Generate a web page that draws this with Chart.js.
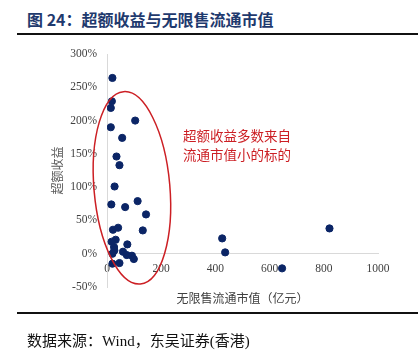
<!DOCTYPE html>
<html>
<head>
<meta charset="utf-8">
<script src="https://cdn.jsdelivr.net/npm/chart.js@4/dist/chart.umd.min.js"></script>
<style>
  html, body { margin: 0; padding: 0; background: #fff; }
  #wrap { position: relative; width: 418px; height: 358px; overflow: hidden; }
  #chartBox { position: absolute; left: 0; top: 0; width: 418px; height: 358px; }
  .title {
    position: absolute; left: 27px; top: 8px;
    font: bold 16px "Noto Sans CJK SC", sans-serif; color: #1f3a6e;
    line-height: 22px; white-space: nowrap;
  }
  .rule { position: absolute; left: 17px; right: 0; height: 2px; background: #111; }
  .source {
    position: absolute; left: 27px; top: 330px;
    font: 15px "Liberation Serif", "Noto Sans CJK SC", serif; color: #111;
    line-height: 22px; white-space: nowrap;
  }
</style>
</head>
<body>
<div id="wrap">
  <div class="title">图 24：超额收益与无限售流通市值</div>
  <div class="rule" style="top:33px"></div>
  <div id="chartBox"><canvas id="myChart"></canvas></div>
  <div class="rule" style="top:312px"></div>
  <div class="source">数据来源：Wind，东吴证券(香港)</div>
</div>
<script>
// 无限售流通市值（亿元）
var floatCap = [20, 18, 14, 104, 14, 56, 35, 46, 28, 16, 67, 113, 144, 132, 22, 41,
                32, 17, 75, 26, 27, 20, 59, 73, 92, 99, 20, 46, 425, 436, 646, 821];
// 超额收益（%）
var excessRet = [264, 229, 219, 200, 190, 174, 146, 133, 101, 74, 70, 79, 59, 35, 36, 39,
                 21, 18, 14, 10, 5, 0, 3, -2, -3, -8, -15, -14, 23, 2, -22, 38];
var xTicks = [0, 200, 400, 600, 800, 1000];
var yTicks = [-50, 0, 50, 100, 150, 200, 250, 300];
var noteLines = ['超额收益多数来自', '流通市值小的标的'];

var points = floatCap.map(function(v, i) { return { x: v, y: excessRet[i] }; });

var serif = "'Liberation Serif', 'Noto Sans CJK SC', serif";

// 椭圆、注释文字和横轴标题
var notePlugin = {
    id: 'notePlugin',
    afterDatasetsDraw: function(chart) {
        var ctx = chart.ctx;
        var xs = chart.scales.x, ys = chart.scales.y;
        var area = chart.chartArea;

        var cx = xs.getPixelForValue(92), cy = ys.getPixelForValue(99);
        var rx = xs.getPixelForValue(140) - xs.getPixelForValue(0);
        var ry = ys.getPixelForValue(0) - ys.getPixelForValue(145);
        ctx.save();
        ctx.strokeStyle = '#cc1f24';
        ctx.lineWidth = 1.5;
        ctx.beginPath();
        ctx.ellipse(cx, cy, rx, ry, -5 * Math.PI / 180, 0, Math.PI * 2);
        ctx.stroke();

        ctx.fillStyle = '#cc1f24';
        ctx.font = "13.5px 'Noto Sans CJK SC', sans-serif";
        ctx.textBaseline = 'middle';
        var tx = xs.getPixelForValue(280), ty = ys.getPixelForValue(177);
        noteLines.forEach(function(line, i) {
            ctx.fillText(line, tx, ty + i * 19);
        });

        ctx.fillStyle = '#404040';
        ctx.font = "12px 'Noto Sans CJK SC', sans-serif";
        ctx.textAlign = 'center';
        ctx.fillText('无限售流通市值（亿元）', (area.left + area.right) / 2, area.bottom + 11);
        ctx.restore();
    }
};

var ctx = document.getElementById('myChart');

var myChart = new Chart(ctx.getContext('2d'), {
    type: 'scatter',
    data: {
        datasets: [{
            label: '超额收益',
            data: points,
            backgroundColor: '#0b2566',
            borderColor: '#0b2566',
            pointRadius: 3.6,
            pointHoverRadius: 3.6
        }]
    },
    options: {
        responsive: true,
        maintainAspectRatio: false,
        animation: false,
        layout: { padding: { left: 50, top: 54, right: 40, bottom: 71 } },
        plugins: {
            legend: { display: false },
            tooltip: { enabled: false }
        },
        scales: {
            x: {
                type: 'linear',
                position: { y: 0 },
                min: 0,
                max: 1000,
                afterBuildTicks: function(scale) {
                    scale.ticks = xTicks.map(function(v) { return { value: v }; });
                },
                grid: { display: false, drawTicks: false },
                border: { display: true, color: '#d9d9d9', width: 1 },
                ticks: {
                    padding: 8,
                    color: '#404040',
                    font: { family: serif, size: 11.5 },
                    maxRotation: 0,
                    callback: function(v) { return String(v); }
                }
            },
            y: {
                type: 'linear',
                min: -50,
                max: 300,
                afterBuildTicks: function(scale) {
                    scale.ticks = yTicks.map(function(v) { return { value: v }; });
                },
                afterFit: function(scale) { scale.width = 57; },
                grid: { display: false, drawTicks: false },
                border: { display: true, color: '#d9d9d9', width: 1 },
                ticks: {
                    padding: 10,
                    color: '#404040',
                    font: { family: serif, size: 11.5 },
                    callback: function(v) { return v + '%'; }
                },
                title: {
                    display: true,
                    text: '超额收益',
                    color: '#595959',
                    padding: 0,
                    font: { family: "'Noto Sans CJK SC', sans-serif", size: 12 }
                }
            }
        }
    },
    plugins: [notePlugin]
});
</script>
</body>
</html>
